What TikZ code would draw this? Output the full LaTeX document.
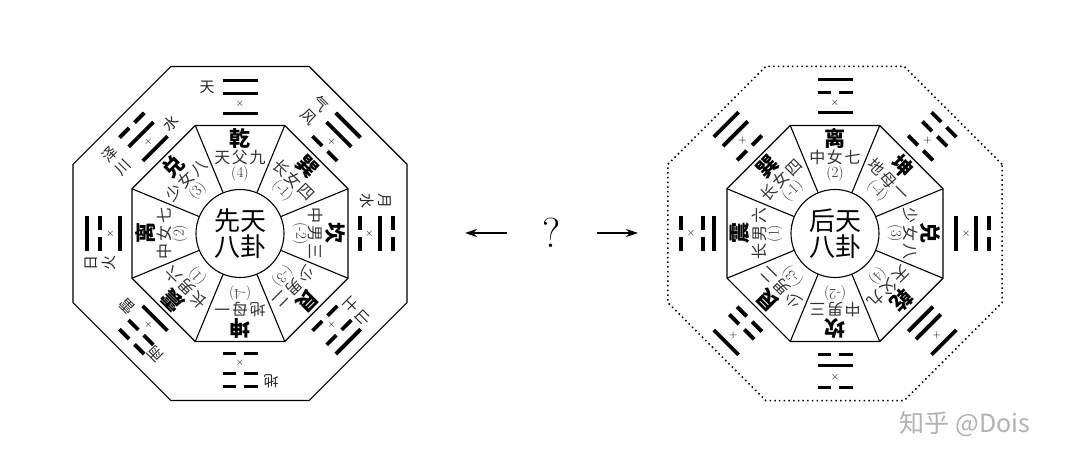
\documentclass[tikz,border=0pt]{standalone}
\usepackage{fontspec}
\newfontfamily\cjk{Noto Sans CJK SC}
\newfontfamily\cjkwide[LetterSpace=10]{Noto Sans CJK SC}
\usetikzlibrary{arrows.meta,positioning}

% one line of a trigram: #1 = 1 solid, 0 broken; #2 = distance from the centre
\newcommand{\yao}[2]{%
  \ifnum#1=1
    \draw[yaoline] (-17.5,#2) -- (17.5,#2);
  \else
    \draw[yaoline] (-17.5,#2) -- (-3.8,#2) (3.8,#2) -- (17.5,#2);
  \fi}

\begin{document}
\begin{tikzpicture}[
  x=1pt, y=1pt,
  frame/.style={line width=1.1pt},
  dotframe/.style={line width=1.5pt, dash pattern=on 1.5pt off 3.2pt},
  yaoline/.style={line width=3.8pt},
  guaname/.style={font=\cjk\bfseries\fontsize{21}{21}\selectfont, inner sep=0pt},
  guadesc/.style={font=\cjkwide\fontsize{16}{16}\selectfont, text=black!80, inner sep=0pt},
  guanum/.style={font=\fontsize{15}{15}\selectfont, text=black!80, inner sep=0pt},
  hub/.style={font=\cjk\fontsize{26}{26}\selectfont, align=center, inner sep=0pt},
  outlabel/.style={font=\cjk\fontsize{15}{18}\selectfont, align=center, inner sep=0pt, text=black!85},
  cross/.style={font=\fontsize{11}{11}\selectfont, inner sep=0pt},
  arr/.style={-{Stealth[length=12pt,width=8pt]}, line width=1.6pt},
]
  \fill[white] (0,0) rectangle (1080,466);
  \useasboundingbox (0,0) rectangle (1080,466);

  % Xiantian (left)
  \begin{scope}[shift={(240,232.5)}]
    \draw[frame] (22.5:180.8) \foreach \a in {67.5,112.5,...,337.5} {-- (\a:180.8)} -- cycle;
    \draw[frame] (22.5:116.9) \foreach \a in {67.5,112.5,...,337.5} {-- (\a:116.9)} -- cycle;
    \draw[frame] (0,0) circle (44);
    \foreach \a in {22.5,67.5,...,337.5} \draw[frame] (\a:44) -- (\a:116.9);
    \node[hub] (L-hub) at (0,0) {先天\\八卦};
    \foreach \k/\gname/\gdesc/\gnum/\ya/\yb/\yc in {
        0/乾/天父九/(4)/1/1/1, 1/巽/长女四/(-1)/0/1/1,
        2/坎/中男三/(-2)/0/1/0, 3/艮/少男二/(-3)/0/0/1,
        4/坤/地母一/(-4)/0/0/0, 5/震/长男六/(1)/1/0/0,
        6/离/中女七/(2)/1/0/1, 7/兑/少女八/(3)/1/1/0} {
      \begin{scope}[rotate=-45*\k, transform shape]
        \node[guaname] (L-n\k) at (0,95) {\gname};
        \node[guadesc] (L-d\k) at (0,76) {\gdesc};
        \node[guanum] (L-v\k) at (0,60) {\gnum};
        \yao{\ya}{120} \yao{\yb}{140} \yao{\yc}{153}
        \node[cross, rotate=45*\k] (L-x\k) at (0,129.5) {$\times$};
      \end{scope}
    }
    \foreach \k/\lx/\ly/\txt/\j in {
        0/-33/146/天/a, 1/-34/140/{气\\风}/a, 2/-32/136/{月\\水}/a,
        3/-28/138/{山\\土}/a, 4/-31/148/地/a, 5/28/131/雷/a,
        5/-25/145/雨/b, 6/-30/140/{日\\火}/a, 7/-36/139/{泽\\川}/a,
        7/29/127/水/b} {
      \begin{scope}[rotate=-45*\k, transform shape]
        \node[outlabel] (L-t\k\j) at (\lx,\ly) {\txt};
      \end{scope}
    }
  \end{scope}

  % Houtian (right)
  \begin{scope}[shift={(835,232.5)}]
    \draw[dotframe] (22.5:180.8) \foreach \a in {67.5,112.5,...,337.5} {-- (\a:180.8)} -- cycle;
    \draw[frame] (22.5:116.9) \foreach \a in {67.5,112.5,...,337.5} {-- (\a:116.9)} -- cycle;
    \draw[frame] (0,0) circle (44);
    \foreach \a in {22.5,67.5,...,337.5} \draw[frame] (\a:44) -- (\a:116.9);
    \node[hub] (R-hub) at (0,0) {后天\\八卦};
    \foreach \k/\gname/\gdesc/\gnum/\ya/\yb/\yc/\rb/\rx in {
        0/离/中女七/(2)/1/0/1/141/131, 1/坤/地母一/(-4)/0/0/0/141/131,
        2/兑/少女八/(3)/1/1/0/141/131, 3/乾/天父九/(4)/1/1/1/132/144,
        4/坎/中男三/(-2)/0/1/0/132/144, 5/艮/少男二/(-3)/0/0/1/132/144,
        6/震/长男六/(1)/1/0/0/132/144, 7/巽/长女四/(-1)/0/1/1/141/131} {
      \begin{scope}[rotate=-45*\k, transform shape]
        \node[guaname] (R-n\k) at (0,95) {\gname};
        \node[guadesc] (R-d\k) at (0,76) {\gdesc};
        \node[guanum] (R-v\k) at (0,60) {\gnum};
        \yao{\ya}{121} \yao{\yb}{\rb} \yao{\yc}{154}
        \node[cross] (R-x\k) at (0,\rx) {$\times$};
      \end{scope}
    }
  \end{scope}

  % question in the middle
  \node[font=\fontsize{42}{42}\selectfont] (ask) at (552,233) {?};
  \coordinate (la) at (507,233);
  \coordinate (lb) at (465,233);
  \coordinate (ra) at (597,233);
  \coordinate (rb) at (638,233);
  \draw[arr] (la) -- (lb);
  \draw[arr] (ra) -- (rb);

  \node[font=\cjk\fontsize{25}{25}\selectfont, text=black!30] (wmark) at (965,42) {知乎 @Dois};
\end{tikzpicture}
\end{document}
